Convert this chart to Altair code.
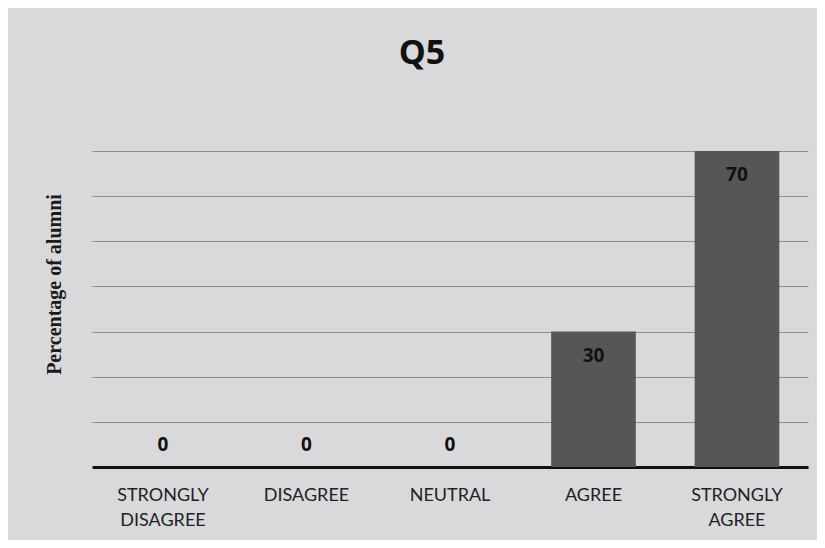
import altair as alt
import pandas as pd

categories = ["STRONGLY DISAGREE", "DISAGREE", "NEUTRAL", "AGREE", "STRONGLY AGREE"]
values = [0, 0, 0, 30, 70]

df = pd.DataFrame({"cat": categories, "val": values})

x = alt.X("cat:N", sort=categories, title=None,
          scale=alt.Scale(paddingInner=0.41, paddingOuter=0.2),
          axis=alt.Axis(labelExpr="split(datum.label, ' ')", labelAngle=0,
                        labelFont="Lato", labelFontSize=18, labelColor="#222222",
                        labelPadding=19, labelLineHeight=25, ticks=False,
                        domainColor="#111111", domainWidth=3))
y = alt.Y("val:Q", title="Percentage of alumni",
          scale=alt.Scale(domain=[0, 70], nice=False),
          axis=alt.Axis(values=[10, 20, 30, 40, 50, 60, 70], labels=False, ticks=False,
                        domain=False, grid=True, gridColor="#8f8f92", gridWidth=1,
                        titleFont="Liberation Serif", titleFontSize=20, titleFontWeight="bold",
                        titleColor="#1a1a1a", titlePadding=28, titleY=133))

bars = alt.Chart(df).mark_bar(color="#565659").encode(x=x, y=y)

zero_text = alt.Chart(df).transform_filter("datum.val == 0").mark_text(
    dy=-22, font="Open Sans", fontWeight="bold", fontSize=19, color="#111111"
).encode(x=alt.X("cat:N", sort=categories), y="val:Q", text="val:Q")

pos_text = alt.Chart(df).transform_filter("datum.val > 0").mark_text(
    dy=24, font="Open Sans", fontWeight="bold", fontSize=19, color="#111111"
).encode(x=alt.X("cat:N", sort=categories), y="val:Q", text="val:Q")

chart = alt.layer(bars, zero_text, pos_text).properties(
    width=716, height=316,
    title=alt.TitleParams(text="Q5", font="Open Sans", fontSize=34, fontWeight="bold",
                          color="#111111", offset=80, dx=-28),
    background="#d9d9db",
    autosize=alt.AutoSizeParams(type="none"),
    padding={"left": 84, "top": 143, "right": 9, "bottom": 73},
).configure_view(stroke=None)

chart.save("out.html", embed_options={"renderer": "svg", "actions": False})
